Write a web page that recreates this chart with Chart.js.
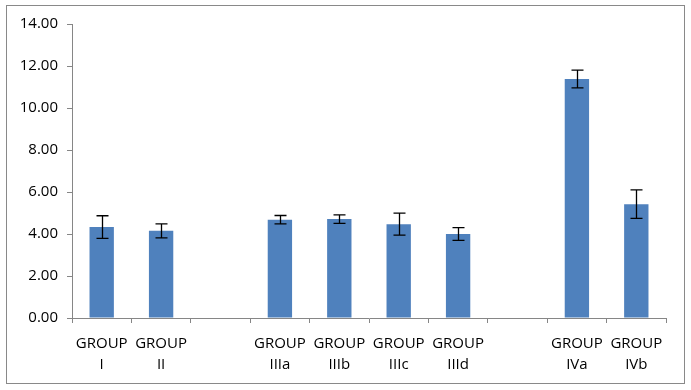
<!DOCTYPE html>
<html>
<head>
<meta charset="utf-8">
<script src="https://cdn.jsdelivr.net/npm/chart.js@4"></script>
<style>
  html, body { margin: 0; padding: 0; background: #fff; }
  #wrap { width: 691px; height: 390px; position: relative; }
</style>
</head>
<body>
<div id="wrap"><canvas id="chart"></canvas></div>
<script>
// categories (empty slots are the gaps between groups)
const groups = [['GROUP', 'I'], ['GROUP', 'II'], '', ['GROUP', 'IIIa'], ['GROUP', 'IIIb'],
                ['GROUP', 'IIIc'], ['GROUP', 'IIId'], '', ['GROUP', 'IVa'], ['GROUP', 'IVb']];
const means = [4.33, 4.15, null, 4.68, 4.71, 4.47, 4.00, null, 11.38, 5.42];
const errors = [0.54, 0.33, null, 0.20, 0.20, 0.52, 0.30, null, 0.42, 0.68];
const yTicks = [0, 2, 4, 6, 8, 10, 12, 14];

const font = { family: '"Open Sans", "Liberation Sans", sans-serif', size: 15, lineHeight: 1.4 };

// error bars drawn from the scales
const errorBars = {
    id: 'errorBars',
    afterDatasetsDraw(chart) {
        const ctx = chart.ctx;
        const y = chart.scales.y;
        const meta = chart.getDatasetMeta(0);
        ctx.save();
        ctx.strokeStyle = '#000';
        ctx.lineWidth = 1.3;
        meta.data.forEach((bar, i) => {
            if (means[i] == null) return;
            const x = Math.round(bar.x) + 0.5;
            const top = y.getPixelForValue(means[i] + errors[i]);
            const bot = y.getPixelForValue(means[i] - errors[i]);
            ctx.beginPath();
            ctx.moveTo(x, top); ctx.lineTo(x, bot);
            ctx.moveTo(x - 6, top); ctx.lineTo(x + 6, top);
            ctx.moveTo(x - 6, bot); ctx.lineTo(x + 6, bot);
            ctx.stroke();
        });
        ctx.restore();
    }
};

const outerBorder = {
    id: 'outerBorder',
    beforeDraw(chart) {
        const ctx = chart.ctx;
        ctx.save();
        ctx.fillStyle = '#fff';
        ctx.fillRect(0, 0, chart.width, chart.height);
        ctx.strokeStyle = '#898989';
        ctx.lineWidth = 1;
        ctx.strokeRect(6.5, 5.5, 678, 378);
        ctx.restore();
    }
};

new Chart(document.getElementById('chart'), {
    type: 'bar',
    data: {
        labels: groups,
        datasets: [{
            data: means,
            backgroundColor: '#4F81BD',
            categoryPercentage: 1,
            barPercentage: 0.41
        }]
    },
    options: {
        responsive: true,
        maintainAspectRatio: false,
        animation: false,
        layout: { padding: { left: 0, right: 25, top: 24, bottom: 0 } },
        plugins: { legend: { display: false }, tooltip: { enabled: false } },
        scales: {
            x: {
                grid: { drawOnChartArea: false, tickLength: 5, color: '#868686', offset: true },
                border: { color: '#868686' },
                ticks: { color: '#000', font: font, maxRotation: 0, autoSkip: false, padding: 10 },
                afterFit(scale) { scale.height = 72; }
            },
            y: {
                min: 0,
                max: 14,
                grid: { drawOnChartArea: false, tickLength: 5, color: '#868686' },
                border: { color: '#868686' },
                afterBuildTicks(scale) { scale.ticks = yTicks.map(v => ({ value: v })); },
                ticks: { color: '#000', font: font, padding: 9, callback: v => v.toFixed(2) },
                afterFit(scale) { scale.width = 72; }
            }
        }
    },
    plugins: [outerBorder, errorBars]
});
</script>
</body>
</html>
